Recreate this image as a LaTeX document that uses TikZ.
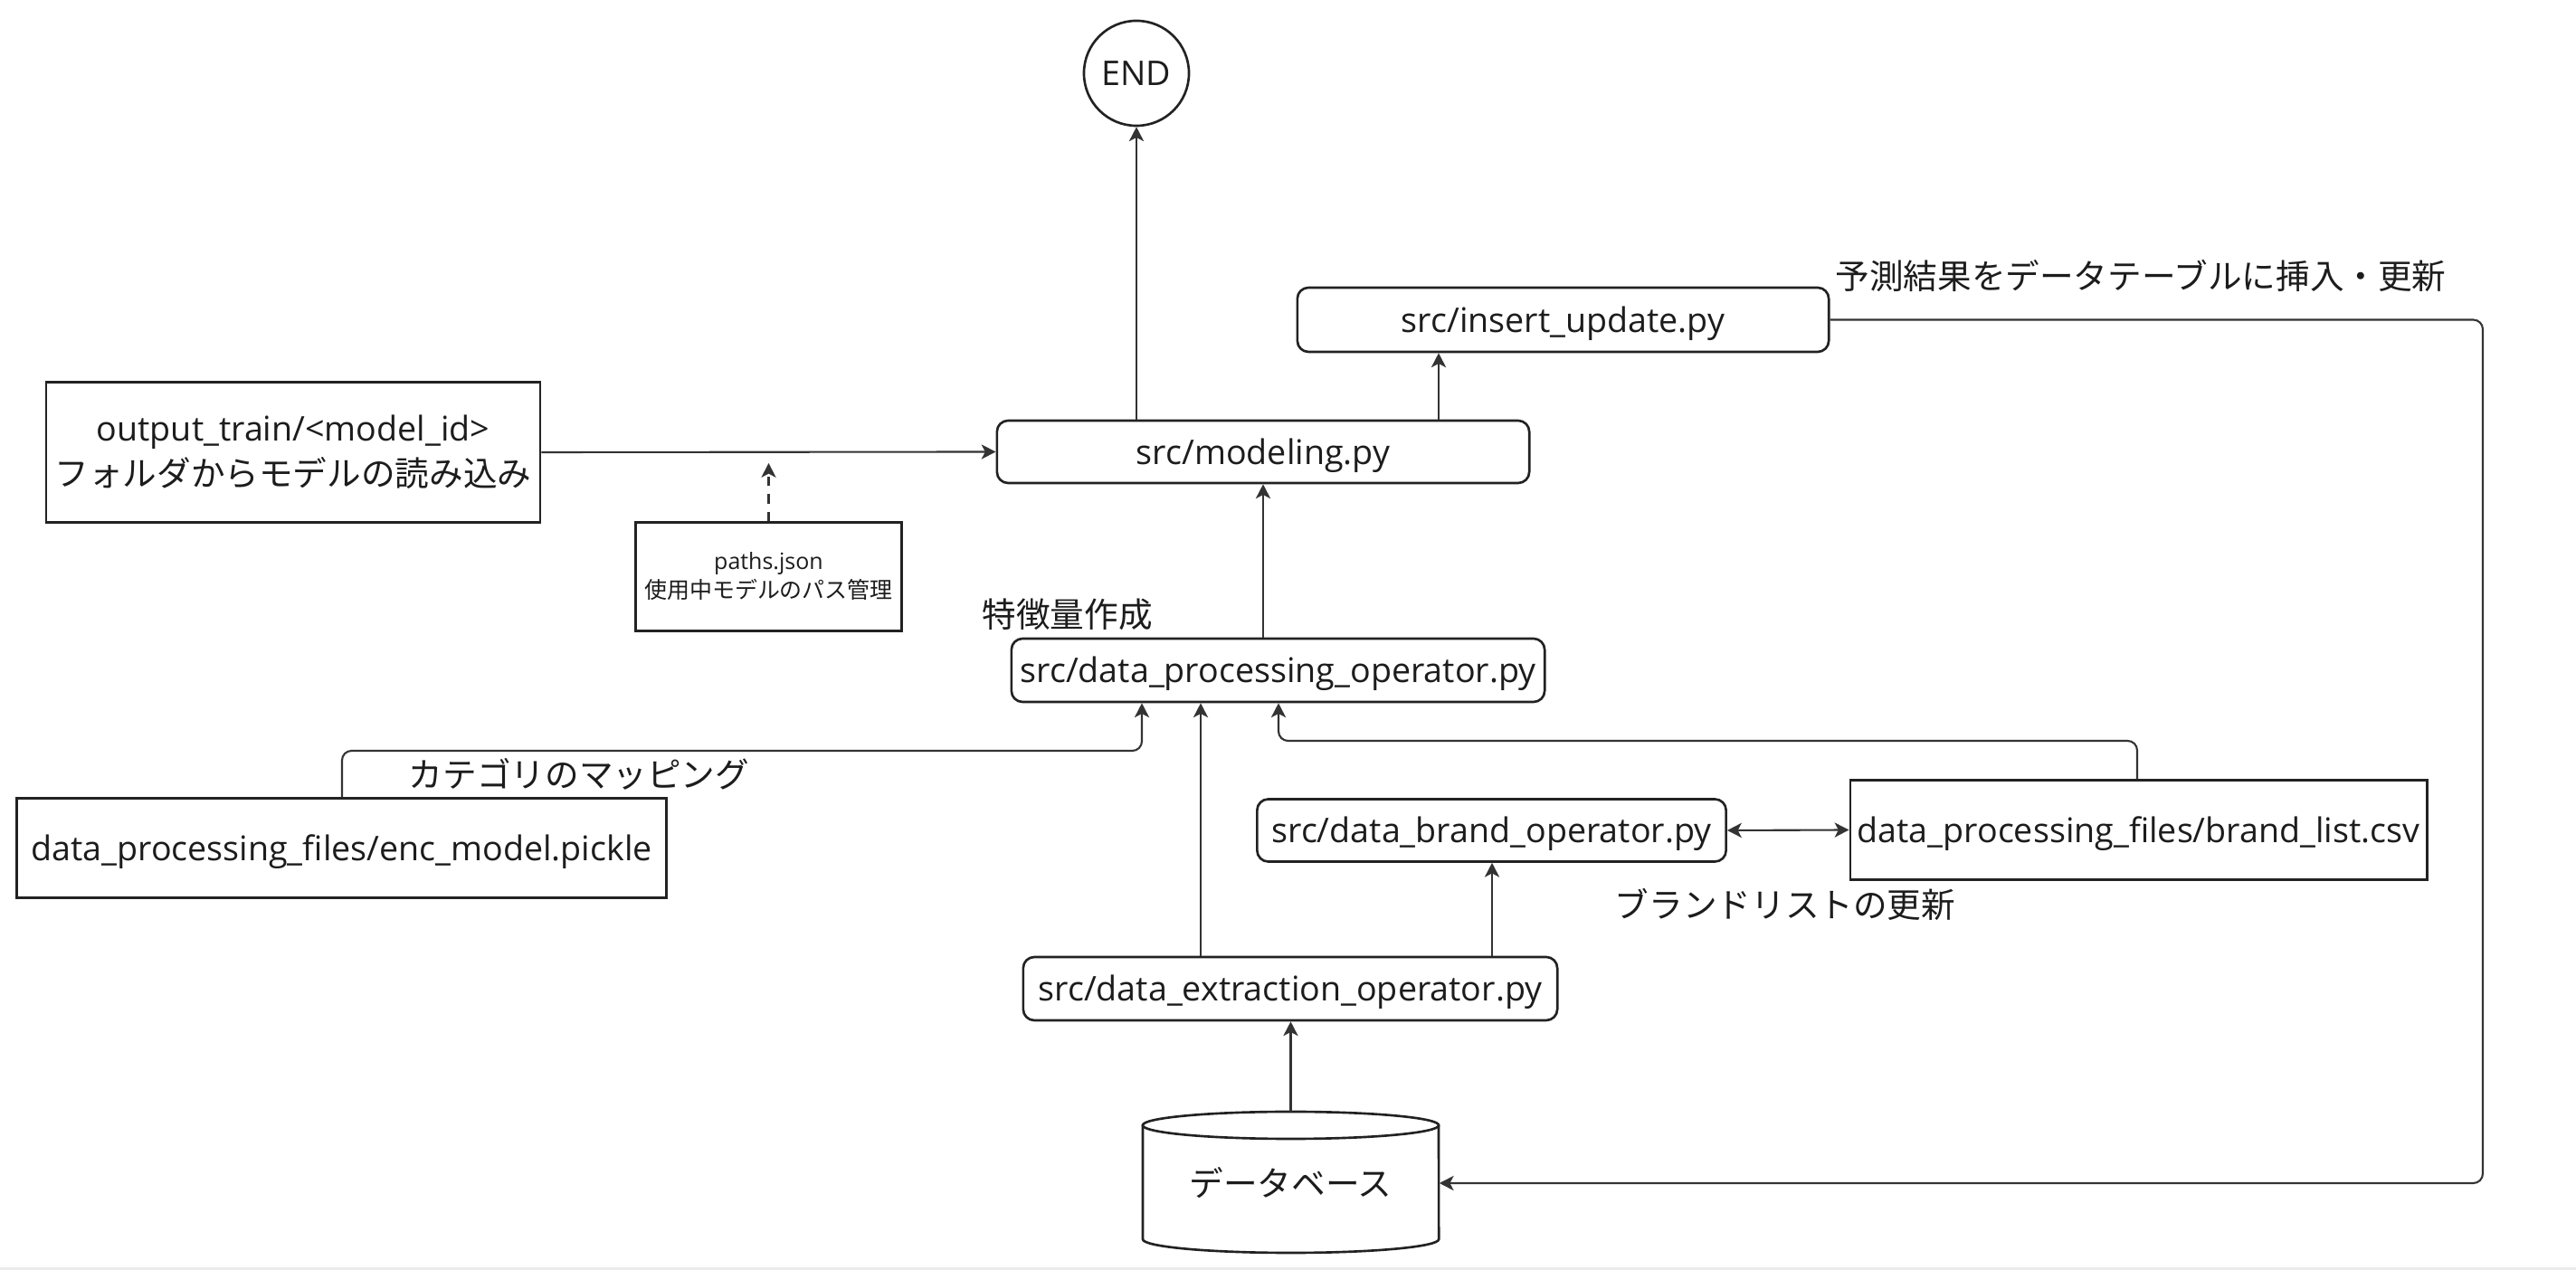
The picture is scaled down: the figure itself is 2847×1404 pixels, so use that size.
\documentclass[tikz,border=0pt]{standalone}
\usepackage{fontspec}
\setmainfont{Open Sans}
\newfontfamily\jp{Noto Sans CJK JP}
\usetikzlibrary{arrows.meta}
\definecolor{linec}{HTML}{333333}
\definecolor{boxc}{HTML}{222222}
\definecolor{txtc}{HTML}{1C1C1C}
\begin{document}
\begin{tikzpicture}[x=0.01cm,y=-0.01cm,
  every node/.style={text=txtc, font={\fontsize{10.7}{14.2}\selectfont}},
  pbox/.style={draw=boxc, line width=0.75pt, rounded corners=3.5pt, inner sep=0pt, align=center, fill=white},
  fbox/.style={draw=boxc, line width=0.75pt, inner sep=0pt, align=center, fill=white},
  oneline/.style={text height=10.8pt, text depth=3pt},
  lbl/.style={inner sep=0pt},
  arr/.style={draw=linec, line width=0.6pt, -{Stealth[length=4.5pt,width=4.6pt,inset=1.2pt]}},
  darr/.style={draw=linec, line width=0.6pt, {Stealth[length=4.5pt,width=4.6pt,inset=1.2pt]}-{Stealth[length=4.5pt,width=4.6pt,inset=1.2pt]}},
]
\useasboundingbox (0,0) rectangle (2847,1404);
\fill[white] (0,0) rectangle (2847,1404);
\fill[black!8] (0,1401) rectangle (2847,1404);

% nodes
\node[circle, draw=boxc, line width=0.75pt, minimum size=1.16cm, inner sep=0pt] (endc) at (1256,81) {END};
\node[pbox, oneline, minimum width=5.88cm, minimum height=0.69cm] (model) at (1396,499.5) {src/modeling.py};
\node[pbox, oneline, minimum width=5.87cm, minimum height=0.71cm] (ins) at (1727.5,353.5) {src/insert\_update.py};
\node[fbox, minimum width=5.46cm, minimum height=1.55cm] (out) at (324,500) {output\_train/<model\_id>\\{\jp フォルダからモデルの読み込み}};
\node[fbox, minimum width=2.94cm, minimum height=1.2cm, font={\fontsize{7.1}{9.1}\selectfont}] (paths) at (849.5,637.5) {paths.json\\{\jp 使用中モデルのパス管理}};
\node[pbox, oneline, minimum width=5.89cm, minimum height=0.70cm] (dpo) at (1412.5,741) {src/data\_processing\_operator.py};
\node[fbox, oneline, minimum width=7.18cm, minimum height=1.10cm] (enc) at (377.5,937.5) {data\_processing\_files/enc\_model.pickle};
\node[pbox, oneline, minimum width=5.18cm, minimum height=0.69cm] (bop) at (1648.5,918) {src/data\_brand\_operator.py};
\node[fbox, oneline, minimum width=6.37cm, minimum height=1.10cm] (blist) at (2363.5,917.5) {data\_processing\_files/brand\_list.csv};
\node[pbox, oneline, minimum width=5.90cm, minimum height=0.70cm] (ext) at (1426,1093) {src/data\_extraction\_operator.py};

% database cylinder
\fill[white] (1263,1244) -- (1263,1370) arc[start angle=180, end angle=360, x radius=1.635cm, y radius=0.15cm] -- (1590,1244) -- cycle;
\draw[draw=boxc, line width=0.75pt] (1263,1244) -- (1263,1370) arc[start angle=180, end angle=360, x radius=1.635cm, y radius=0.15cm] -- (1590,1244);
\draw[draw=boxc, line width=0.75pt, fill=white] (1426.5,1244) ellipse[x radius=1.635cm, y radius=0.15cm];
\node[inner sep=0pt, minimum width=3.27cm, minimum height=1.56cm] (db) at (1426.5,1308) {\jp データベース};

% labels
\node[lbl, anchor=west] (lfeat) at (1085,679) {\jp 特徴量作成};
\node[lbl] (lcat) at (640,856) {\jp カテゴリのマッピング};
\node[lbl] (lbrand) at (1973,1000) {\jp ブランドリストの更新};
\node[lbl] (lins) at (2366,305) {\jp 予測結果をデータテーブルに挿入・更新};
\coordinate (ptip) at (849.5,512);

% connectors
\draw[arr] (endc.south |- model.north) -- (endc.south);
\draw[arr] (out.east) -- (model.west);
\draw[arr, dash pattern=on 3pt off 2.5pt] (paths.north) -- (ptip);
\draw[arr] (1590,0 |- model.north) -- (1590,0 |- ins.south);
\draw[arr] (model.south |- dpo.north) -- (model.south);
\draw[arr, rounded corners=3pt] (378,0 |- enc.north) |- (1262,830) -- (1262,0 |- dpo.south);
\draw[arr] (1327,0 |- ext.north) -- (1327,0 |- dpo.south);
\draw[arr, rounded corners=3pt] (2362,0 |- blist.north) |- (1413,819) -- (1413,0 |- dpo.south);
\draw[darr] (bop.east) -- (blist.west);
\draw[arr] (1649,0 |- ext.north) -- (1649,0 |- bop.south);
\draw[arr] (db.north) -- (db.north |- ext.south);
\draw[arr, rounded corners=3pt] (ins.east) -- (2744,353.5) |- (db.east);
\end{tikzpicture}
\end{document}
